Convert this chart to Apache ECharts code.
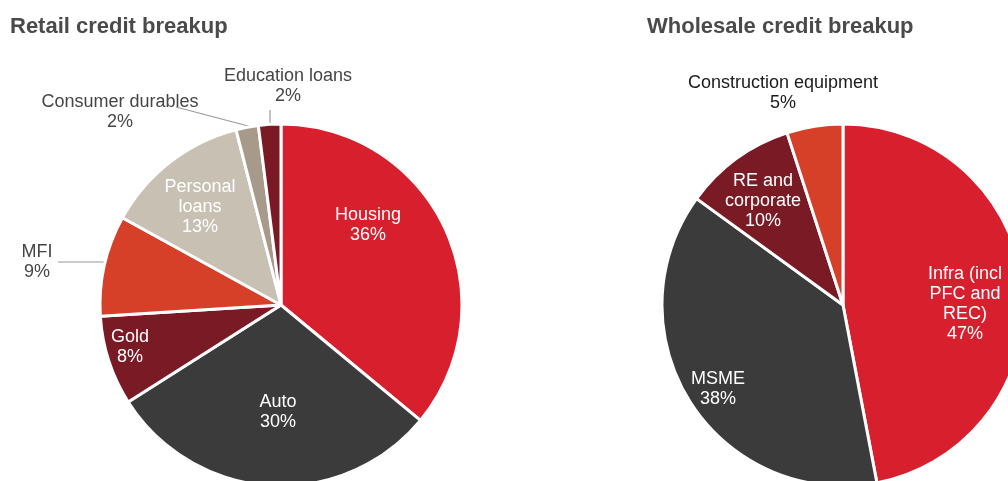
<!DOCTYPE html>
<html>
<head>
<meta charset="utf-8">
<script src="https://cdn.jsdelivr.net/npm/echarts@6/dist/echarts.min.js"></script>
<style>
html,body{margin:0;padding:0;background:#fff;}
#chart{width:1008px;height:481px;}
</style>
</head>
<body>
<div id="chart"></div>
<script>
// ---- data ----
const retailCategories = ['Housing', 'Auto', 'Gold', 'MFI', 'Personal loans', 'Consumer durables', 'Education loans'];
const retailLabelText = ['Housing', 'Auto', 'Gold', 'MFI', 'Personal\nloans', 'Consumer durables', 'Education loans'];
const retailValues = [36, 30, 8, 9, 13, 2, 2];

const wholesaleCategories = ['Infra (incl PFC and REC)', 'MSME', 'RE and corporate', 'Construction equipment'];
const wholesaleLabelText = ['Infra (incl\nPFC and\nREC)', 'MSME', 'RE and\ncorporate', 'Construction equipment'];
const wholesaleValues = [47, 38, 10, 5];

const titles = ['Retail credit breakup', 'Wholesale credit breakup'];

// ---- styles ----
const retailColors = ['#d71f2e', '#3b3b3b', '#7a1a25', '#d63f28', '#c9c0b4', '#a79a8b', '#7a1a25'];
const retailInside = [true, true, true, false, true, false, false];
const wholesaleColors = ['#d71f2e', '#3b3b3b', '#7a1a25', '#d63f28'];
const wholesaleInside = [true, true, true, false];

// label anchor placement (pixel, per slice)
const retailLabelPos = [[368, 225], [278, 412], [130, 347], [37, 262], [200, 207], [120, 112], [288, 86]];
const retailLines = {3: [[58, 262], [105, 262]], 5: [[176, 107], [252, 127]], 6: [[270, 110], [270, 124]]};
const wholesaleLabelPos = [[965, 304], [718, 389], [763, 201], [783, 93]];
const wholesaleLines = {};

function fmt(texts) {
  return function (p) { return texts[p.dataIndex] + '\n' + p.value + '%'; };
}

function layoutFor(pos, lines) {
  return function (params) {
    const p = pos[params.dataIndex];
    const r = { x: p[0], y: p[1], align: 'center', verticalAlign: 'middle' };
    if (lines[params.dataIndex]) r.labelLinePoints = lines[params.dataIndex];
    return r;
  };
}

const chart = echarts.init(document.getElementById('chart'), null, { renderer: 'canvas' });

const labelFont = { fontFamily: 'Liberation Sans, Arial, sans-serif', fontSize: 18, lineHeight: 20 };
const titleFont = { fontFamily: 'Liberation Sans, Arial, sans-serif', fontSize: 22, fontWeight: 'bold', color: '#4a4a4a' };

chart.setOption({
  backgroundColor: '#ffffff',
  animation: false,
  title: [
    { text: titles[0], left: 5, top: 11, textStyle: titleFont },
    { text: titles[1], left: 642, top: 11, textStyle: titleFont }
  ],
  series: [
    {
      type: 'pie',
      center: [281, 305],
      radius: [0, 181],
      startAngle: 90,
      clockwise: true,
      avoidLabelOverlap: false,
      itemStyle: { borderColor: '#ffffff', borderWidth: 3 },
      label: Object.assign({ show: true, formatter: fmt(retailLabelText) }, labelFont),
      labelLayout: layoutFor(retailLabelPos, retailLines),
      emphasis: { disabled: true },
      data: retailCategories.map((c, i) => ({
        name: c, value: retailValues[i],
        itemStyle: { color: retailColors[i] },
        label: { position: retailInside[i] ? 'inside' : 'outside', color: retailInside[i] ? '#ffffff' : '#454545' },
        labelLine: { show: !retailInside[i], lineStyle: { color: '#9a9a9a', width: 1.2 } }
      }))
    },
    {
      type: 'pie',
      center: [843, 305],
      radius: [0, 181],
      startAngle: 90,
      clockwise: true,
      avoidLabelOverlap: false,
      itemStyle: { borderColor: '#ffffff', borderWidth: 3 },
      label: Object.assign({ show: true, formatter: fmt(wholesaleLabelText) }, labelFont),
      labelLayout: layoutFor(wholesaleLabelPos, wholesaleLines),
      emphasis: { disabled: true },
      data: wholesaleCategories.map((c, i) => ({
        name: c, value: wholesaleValues[i],
        itemStyle: { color: wholesaleColors[i] },
        label: { position: wholesaleInside[i] ? 'inside' : 'outside', color: wholesaleInside[i] ? '#ffffff' : '#1a1a1a' },
        labelLine: { show: false }
      }))
    }
  ]
});
</script>
</body>
</html>
